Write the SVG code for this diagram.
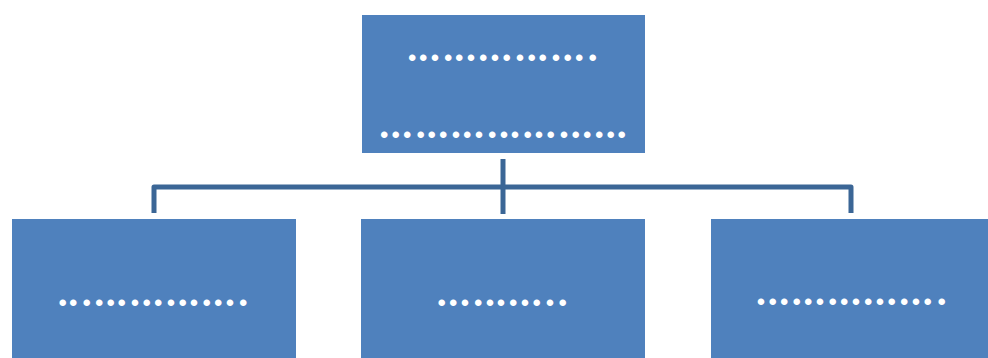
<svg xmlns="http://www.w3.org/2000/svg" width="988" height="358" viewBox="0 0 988 358">
<style>
.box{fill:#4F81BD;}
.t{fill:#FFFFFF;font-family:"Liberation Sans",Arial,sans-serif;font-size:24px;}
.c{fill:none;stroke:#3B6696;stroke-width:5;stroke-linejoin:round;}
</style>
<rect width="988" height="358" fill="#FFFFFF"/>
<g id="connectors">
<path class="c" d="M503 159 V214"/>
<path class="c" d="M154 213 V187 H851 V213"/>
</g>
<g id="node-top">
<rect class="box" x="362" y="15" width="283" height="138"/>
<text class="t" x="408.1 419.1 430.8 444.1 455.1 466.8 479.1 490.8 502.5 515.8 527.5 538.5 551.8 563.5 575.1 588.5" y="66">••••••••••••••••</text>
<text class="t" x="380.1 391.5 403.1 416.5 427.5 439.1 451.8 463.1 474.8 488.1 499.8 510.8 523.5 534.8 546.5 559.8 571.5 583.1 595.1 606.5 617.5" y="143">•••••••••••••••••••••</text>
</g>
<g id="node-left">
<rect class="box" x="12" y="219" width="284" height="141"/>
<text class="t" x="58.5 69.1 82.5 95.1 106.5 117.5 130.8 142.5 154.1 166.8 178.5 189.8 202.5 214.1 225.8 239.1" y="310.7">••••••••••••••••</text>
</g>
<g id="node-middle">
<rect class="box" x="361" y="219" width="284" height="141"/>
<text class="t" x="437.5 449.1 460.8 474.1 485.8 496.8 509.1 520.8 532.5 545.8 558.5" y="310.7">•••••••••••</text>
</g>
<g id="node-right">
<rect class="box" x="711" y="219" width="277" height="141"/>
<text class="t" x="756.8 768.5 780.1 792.5 804.1 815.8 828.5 840.1 851.8 864.1 875.8 887.5 900.1 911.8 923.5 937.5" y="309.7">••••••••••••••••</text>
</g>
</svg>
